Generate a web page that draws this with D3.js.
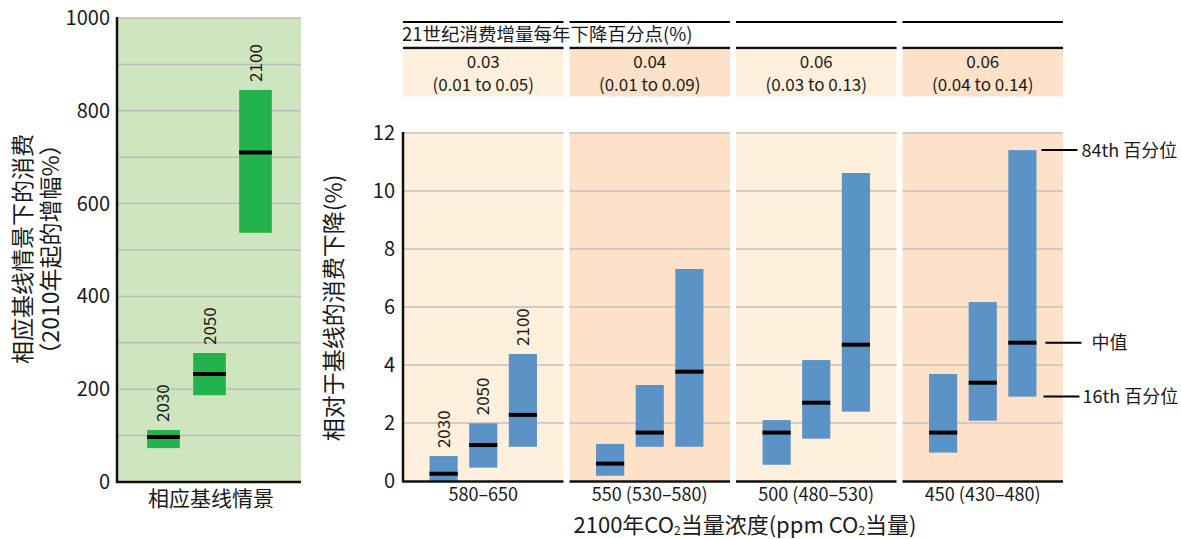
<!DOCTYPE html>
<html>
<head>
<meta charset="utf-8">
<script src="https://cdn.jsdelivr.net/npm/d3@7"></script>
<style>
  body { margin: 0; background: #fff; }
  text { font-family: "Noto Sans CJK SC", "Noto Sans", sans-serif; fill: #1a1a1a; }
</style>
</head>
<body>
<div id="chart"></div>
<script>
// data
const years = ["2030", "2050", "2100"];

// left panel: consumption growth in baseline (% since 2010)
const baseLow = [73, 187, 537];
const baseMed = [97, 233, 710];
const baseHigh = [112, 278, 845];
const baseTicks = [0, 200, 400, 600, 800, 1000];

// right panel: consumption loss relative to baseline (%)
const categories = ["580–650", "550 (530–580)", "500 (480–530)", "450 (430–480)"];
const rateMedian = ["0.03", "0.04", "0.06", "0.06"];
const rateRange = ["(0.01 to 0.05)", "(0.01 to 0.09)", "(0.03 to 0.13)", "(0.04 to 0.14)"];
const p16 = [[0, 0.46, 1.18], [0.18, 1.18, 1.18], [0.56, 1.46, 2.39], [0.98, 2.08, 2.91]];
const p50 = [[0.25, 1.24, 2.28], [0.6, 1.67, 3.77], [1.67, 2.7, 4.7], [1.67, 3.39, 4.77]];
const p84 = [[0.86, 1.99, 4.38], [1.28, 3.31, 7.31], [2.1, 4.17, 10.62], [3.69, 6.17, 11.41]];
const lossTicks = [0, 2, 4, 6, 8, 10, 12];

const width = 1181, height = 539;
const panelFill = ["#fef0dd", "#fde1c9", "#fef0dd", "#fde1c9"];

const svg = d3.select("#chart").append("svg")
  .attr("width", width)
  .attr("height", height);

// ---------- left panel ----------
const yL = d3.scaleLinear().domain([0, 1000]).range([482, 18]);
const xL = d3.scaleBand().domain(years).range([118, 301]).paddingInner(0.29).paddingOuter(0.634);

svg.append("rect")
  .attr("x", 118).attr("y", yL(1000))
  .attr("width", 183).attr("height", yL(0) - yL(1000))
  .attr("fill", "#cfe5c0");

svg.append("g").selectAll("line")
  .data(d3.range(100, 1001, 100))
  .join("line")
  .attr("x1", 118).attr("x2", 301)
  .attr("y1", d => yL(d)).attr("y2", d => yL(d))
  .attr("stroke", "#bdbdbd").attr("stroke-width", 1.5);

svg.append("g").selectAll("rect")
  .data(years)
  .join("rect")
  .attr("x", d => xL(d))
  .attr("y", (d, i) => yL(baseHigh[i]))
  .attr("width", xL.bandwidth())
  .attr("height", (d, i) => yL(baseLow[i]) - yL(baseHigh[i]))
  .attr("fill", "#23b24b");

svg.append("g").selectAll("line")
  .data(years)
  .join("line")
  .attr("x1", d => xL(d)).attr("x2", d => xL(d) + xL.bandwidth())
  .attr("y1", (d, i) => yL(baseMed[i])).attr("y2", (d, i) => yL(baseMed[i]))
  .attr("stroke", "#000").attr("stroke-width", 4);

svg.append("g").selectAll("text")
  .data(years)
  .join("text")
  .attr("transform", (d, i) => `translate(${xL(d) + xL.bandwidth() / 2 + 6},${yL(baseHigh[i]) - 8}) rotate(-90)`)
  .attr("font-size", 17)
  .text(d => d);

// axes
svg.append("g").selectAll("text")
  .data(baseTicks)
  .join("text")
  .attr("x", 110).attr("y", d => yL(d) + 7)
  .attr("text-anchor", "end")
  .attr("font-size", 20)
  .text(d => d);

svg.append("line").attr("x1", 117).attr("x2", 117).attr("y1", 17).attr("y2", 483)
  .attr("stroke", "#111").attr("stroke-width", 2.5);
svg.append("line").attr("x1", 116).attr("x2", 301).attr("y1", 482).attr("y2", 482)
  .attr("stroke", "#111").attr("stroke-width", 2.5);

svg.append("text")
  .attr("x", 211).attr("y", 506)
  .attr("text-anchor", "middle").attr("font-size", 21)
  .attr("fill", "#333")
  .text("相应基线情景");

svg.append("text")
  .attr("transform", "translate(31,249) rotate(-90)")
  .attr("text-anchor", "middle").attr("font-size", 23)
  .attr("fill", "#333")
  .text("相应基线情景下的消费");
svg.append("text")
  .attr("transform", "translate(59,249) rotate(-90)")
  .attr("text-anchor", "middle").attr("font-size", 23)
  .attr("fill", "#333")
  .text("（2010年起的增幅%）");

// ---------- right panel ----------
const yR = d3.scaleLinear().domain([0, 12]).range([481, 133]);
const xR = d3.scaleBand().domain(categories).range([403, 1063]).paddingInner(0.036);
const xIn = d3.scaleBand().domain(years).range([0, xR.bandwidth()]).paddingInner(0.29).paddingOuter(0.67);

const panels = svg.append("g").selectAll("g")
  .data(categories)
  .join("g")
  .attr("transform", d => `translate(${xR(d)},0)`);

// header
panels.append("line")
  .attr("x1", 0).attr("x2", xR.bandwidth())
  .attr("y1", 22).attr("y2", 22)
  .attr("stroke", "#000").attr("stroke-width", 2);
panels.append("line")
  .attr("x1", 0).attr("x2", xR.bandwidth())
  .attr("y1", 48).attr("y2", 48)
  .attr("stroke", "#111").attr("stroke-width", 2.5);
panels.append("rect")
  .attr("x", 0).attr("y", 49.5)
  .attr("width", xR.bandwidth()).attr("height", 47)
  .attr("fill", (d, i) => panelFill[i]);
panels.append("text")
  .attr("x", xR.bandwidth() / 2).attr("y", 67.5)
  .attr("text-anchor", "middle").attr("font-size", 17)
  .text((d, i) => rateMedian[i]);
panels.append("text")
  .attr("x", xR.bandwidth() / 2).attr("y", 91)
  .attr("text-anchor", "middle").attr("font-size", 17)
  .text((d, i) => rateRange[i]);

svg.append("text")
  .attr("x", 402).attr("y", 41)
  .attr("font-size", 18.5)
  .text("21世纪消费增量每年下降百分点(%)");

// plot background + grid
panels.append("rect")
  .attr("x", 0).attr("y", yR(12))
  .attr("width", xR.bandwidth()).attr("height", yR(0) - yR(12))
  .attr("fill", (d, i) => panelFill[i]);

panels.selectAll("line.grid")
  .data(lossTicks.slice(1))
  .join("line")
  .attr("class", "grid")
  .attr("x1", 0).attr("x2", xR.bandwidth())
  .attr("y1", d => yR(d)).attr("y2", d => yR(d))
  .attr("stroke", "#c4c0bb").attr("stroke-width", 1.5);

// bars
panels.selectAll("rect.bar")
  .data((d, i) => years.map((y, j) => ({ y, lo: p16[i][j], med: p50[i][j], hi: p84[i][j] })))
  .join("rect")
  .attr("class", "bar")
  .attr("x", d => xIn(d.y))
  .attr("y", d => yR(d.hi))
  .attr("width", xIn.bandwidth())
  .attr("height", d => yR(d.lo) - yR(d.hi))
  .attr("fill", "#5b93c7");

panels.selectAll("line.med")
  .data((d, i) => years.map((y, j) => ({ y, med: p50[i][j] })))
  .join("line")
  .attr("class", "med")
  .attr("x1", d => xIn(d.y)).attr("x2", d => xIn(d.y) + xIn.bandwidth())
  .attr("y1", d => yR(d.med)).attr("y2", d => yR(d.med))
  .attr("stroke", "#000").attr("stroke-width", 4);

// bottom axis segments
panels.append("line")
  .attr("x1", 0).attr("x2", xR.bandwidth())
  .attr("y1", 481.5).attr("y2", 481.5)
  .attr("stroke", "#111").attr("stroke-width", 2.5);

panels.append("text")
  .attr("x", xR.bandwidth() / 2).attr("y", 501)
  .attr("text-anchor", "middle").attr("font-size", 18)
  .text(d => d);

// year labels, first panel only
const first = panels.filter((d, i) => i === 0);
first.selectAll("text.yr")
  .data(years.map((y, j) => ({ y, hi: p84[0][j] })))
  .join("text")
  .attr("class", "yr")
  .attr("transform", d => `translate(${xIn(d.y) + xIn.bandwidth() / 2 + 6},${yR(d.hi) - 8}) rotate(-90)`)
  .attr("font-size", 17)
  .text(d => d.y);

// left axis
svg.append("line").attr("x1", 403).attr("x2", 403).attr("y1", 132).attr("y2", 482.5)
  .attr("stroke", "#111").attr("stroke-width", 2.5);

svg.append("g").selectAll("text")
  .data(lossTicks)
  .join("text")
  .attr("x", 395).attr("y", d => yR(d) + 7)
  .attr("text-anchor", "end")
  .attr("font-size", 20)
  .text(d => d);

svg.append("text")
  .attr("transform", "translate(342,308) rotate(-90)")
  .attr("text-anchor", "middle").attr("font-size", 23)
  .attr("fill", "#333")
  .text("相对于基线的消费下降(%)");

// x title with subscripts
const xt = svg.append("text")
  .attr("x", 745).attr("y", 533)
  .attr("text-anchor", "middle").attr("font-size", 22);
xt.append("tspan").text("2100年CO");
xt.append("tspan").attr("font-size", 12).attr("dy", 2).text("2");
xt.append("tspan").attr("dy", -2).text("当量浓度(ppm CO");
xt.append("tspan").attr("font-size", 12).attr("dy", 2).text("2");
xt.append("tspan").attr("dy", -2).text("当量)");

// legend on last panel's 2100 bar
const lastX = xR(categories[3]) + xIn("2100") + xIn.bandwidth();
const legendRows = [
  { v: p84[3][2], label: "84th 百分位", dx: 5, gap: 4 },
  { v: p50[3][2], label: "中值", dx: 9, gap: 10 },
  { v: p16[3][2], label: "16th 百分位", dx: 7, gap: 3 }
];
const leg = svg.append("g").selectAll("g")
  .data(legendRows)
  .join("g")
  .attr("transform", d => `translate(${lastX + d.dx},${yR(d.v)})`);
leg.append("line")
  .attr("x1", 0).attr("x2", 36)
  .attr("y1", 0).attr("y2", 0)
  .attr("stroke", "#000").attr("stroke-width", 2);
leg.append("text")
  .attr("x", d => 36 + d.gap).attr("y", 6.5)
  .attr("font-size", 18)
  .text(d => d.label);
</script>
</body>
</html>
